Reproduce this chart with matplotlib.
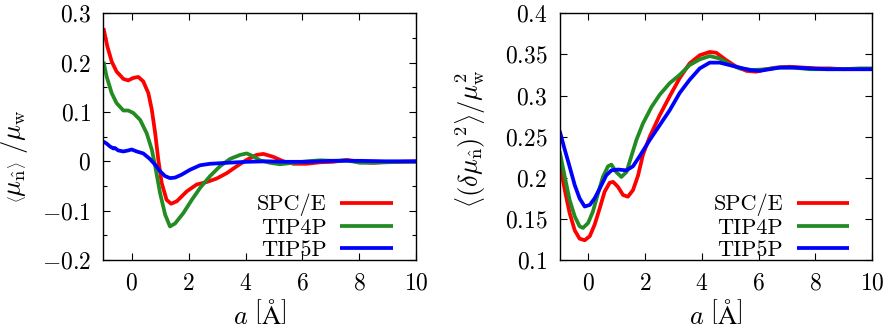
import numpy as np
import matplotlib.pyplot as plt
from matplotlib.ticker import MultipleLocator, FuncFormatter

plt.rcParams['mathtext.fontset'] = 'cm'
plt.rcParams['font.family'] = 'serif'
plt.rcParams['font.serif'] = ['cmr10', 'DejaVu Serif']
plt.rcParams['axes.formatter.use_mathtext'] = True

# ---- left panel: <mu_n> / mu_w ----
a_spce_1 = [-1.0, -0.865, -0.71, -0.54, -0.30, -0.13, 0.05, 0.225, 0.40, 0.58, 0.70, 0.82, 0.93, 1.05,
            1.22, 1.38, 1.58, 1.93, 2.28, 2.63, 2.98, 3.34, 3.69, 4.04, 4.39, 4.63, 4.98, 5.33, 5.69,
            6.15, 6.62, 7.09, 7.56, 8.03, 8.5, 8.97, 9.44, 10.0]
mu_spce = [0.270, 0.233, 0.202, 0.182, 0.167, 0.164, 0.169, 0.171, 0.162, 0.138, 0.105, 0.057, 0.003, -0.044,
           -0.078, -0.086, -0.081, -0.061, -0.047, -0.042, -0.035, -0.024, -0.010, 0.003, 0.013, 0.015, 0.009,
           0.0, -0.005, -0.005, -0.002, -0.001, 0.003, -0.001, -0.003, -0.001, -0.001, 0.0]

a_tip4p_1 = [-1.0, -0.89, -0.71, -0.54, -0.30, -0.13, 0.05, 0.29, 0.52, 0.70, 0.82, 0.99, 1.17, 1.34, 1.52,
             1.81, 2.11, 2.40, 2.75, 3.10, 3.46, 3.81, 4.04, 4.28, 4.51, 4.86, 5.21, 5.69, 6.15, 6.62, 7.09,
             7.56, 8.03, 8.5, 8.97, 9.44, 10.0]
mu_tip4p = [0.202, 0.172, 0.138, 0.118, 0.103, 0.103, 0.098, 0.084, 0.057, 0.024, -0.010, -0.064, -0.108,
            -0.132, -0.126, -0.105, -0.078, -0.054, -0.030, -0.010, 0.005, 0.013, 0.016, 0.010, 0.002, -0.003,
            -0.006, -0.003, 0.0, 0.002, 0.001, 0.002, -0.003, -0.003, -0.002, -0.001, -0.001]

a_tip5p_1 = [-1.0, -0.89, -0.77, -0.65, -0.60, -0.48, -0.30, -0.13, -0.01, 0.17, 0.40, 0.63, 0.82, 0.99, 1.17,
             1.34, 1.52, 1.75, 2.05, 2.40, 2.75, 3.34, 4.04, 4.75, 5.45, 6.15, 7.09, 8.03, 8.97, 10.0]
mu_tip5p = [0.040, 0.036, 0.030, 0.026, 0.027, 0.022, 0.020, 0.022, 0.024, 0.020, 0.016, 0.005, -0.007, -0.020,
            -0.030, -0.034, -0.033, -0.027, -0.017, -0.008, -0.005, -0.003, -0.001, 0.0, -0.001, -0.001, 0.001,
            0.001, 0.0, 0.0]

# ---- right panel: <(delta mu_n)^2> / mu_w^2 ----
a_spce_2 = [-1.0, -0.82, -0.65, -0.47, -0.30, -0.12, 0.06, 0.23, 0.41, 0.58, 0.76, 0.88, 1.05, 1.23, 1.40,
            1.58, 1.76, 1.93, 2.17, 2.52, 2.87, 3.22, 3.57, 3.93, 4.28, 4.51, 4.86, 5.22, 5.57, 5.92, 6.27,
            6.62, 7.09, 7.56, 8.03, 8.5, 8.97, 9.44, 10.0]
var_spce = [0.218, 0.185, 0.157, 0.136, 0.126, 0.124, 0.129, 0.143, 0.163, 0.183, 0.194, 0.195, 0.189, 0.179,
            0.177, 0.185, 0.203, 0.228, 0.250, 0.276, 0.299, 0.321, 0.339, 0.349, 0.353, 0.352, 0.343, 0.335,
            0.330, 0.329, 0.332, 0.334, 0.335, 0.334, 0.333, 0.333, 0.332, 0.332, 0.332]

a_tip4p_2 = [-1.0, -0.82, -0.65, -0.47, -0.30, -0.18, 0.0, 0.17, 0.35, 0.52, 0.70, 0.82, 0.99, 1.17, 1.35,
             1.52, 1.70, 1.93, 2.23, 2.52, 2.87, 3.22, 3.57, 3.93, 4.28, 4.63, 4.98, 5.33, 5.80, 6.27, 6.74,
             7.21, 7.80, 8.38, 8.97, 9.56, 10.0]
var_tip4p = [0.232, 0.201, 0.173, 0.153, 0.141, 0.139, 0.145, 0.159, 0.181, 0.201, 0.214, 0.216, 0.207, 0.201,
             0.207, 0.226, 0.246, 0.266, 0.286, 0.301, 0.315, 0.325, 0.337, 0.344, 0.348, 0.345, 0.338, 0.333,
             0.331, 0.332, 0.334, 0.334, 0.332, 0.332, 0.332, 0.333, 0.333]

a_tip5p_2 = [-1.0, -0.82, -0.65, -0.47, -0.30, -0.12, 0.06, 0.23, 0.41, 0.64, 0.82, 1.05, 1.35, 1.58, 1.81,
             2.17, 2.52, 2.87, 3.22, 3.57, 3.93, 4.28, 4.63, 4.98, 5.33, 5.69, 6.04, 6.39, 6.74, 7.21, 7.80,
             8.38, 8.97, 9.56, 10.0]
var_tip5p = [0.257, 0.234, 0.2135, 0.191, 0.175, 0.165, 0.167, 0.175, 0.187, 0.203, 0.209, 0.210, 0.209, 0.214,
             0.226, 0.246, 0.264, 0.282, 0.303, 0.319, 0.333, 0.340, 0.340, 0.337, 0.334, 0.331, 0.330, 0.332,
             0.334, 0.334, 0.333, 0.332, 0.332, 0.332, 0.332]

labels = ['SPC/E', 'TIP4P', 'TIP5P']
colors = ['#ff0000', '#228b22', '#0000ff']

fig = plt.figure(figsize=(8.86, 3.28), dpi=100)
ax1 = fig.add_axes([0.1168, 0.2073, 0.3527, 0.7522])
ax2 = fig.add_axes([0.6317, 0.2073, 0.3528, 0.7522])


def fmt(v, pos):
    s = ('%.2f' % v).rstrip('0').rstrip('.')
    if s in ('-0', ''):
        s = '0'
    return '$' + s + '$'


panels = [
    (ax1, [(a_spce_1, mu_spce), (a_tip4p_1, mu_tip4p), (a_tip5p_1, mu_tip5p)],
     (-0.2, 0.3), 0.1, 0.05,
     r'$\left\langle \mu_{\hat{\mathrm{n}}} \right\rangle\ /\mu_{\mathrm{w}}$', (-0.235, 0.42)),
    (ax2, [(a_spce_2, var_spce), (a_tip4p_2, var_tip4p), (a_tip5p_2, var_tip5p)],
     (0.1, 0.4), 0.05, None,
     r'$\left\langle (\delta\mu_{\hat{\mathrm{n}}})^2 \right\rangle /\mu_{\mathrm{w}}^2$', (-0.232, 0.49)),
]

for ax, series, ylim, ymaj, ymin, ylab, lpos in panels:
    for (x, y), lab, c in zip(series, labels, colors):
        ax.plot(x, y, color=c, lw=2.7, label=lab, solid_capstyle='butt')
    ax.set_xlim(-1, 10)
    ax.set_ylim(*ylim)
    ax.xaxis.set_major_locator(MultipleLocator(2))
    ax.yaxis.set_major_locator(MultipleLocator(ymaj))
    if ymin:
        ax.yaxis.set_minor_locator(MultipleLocator(ymin))
    ax.xaxis.set_major_formatter(FuncFormatter(fmt))
    ax.yaxis.set_major_formatter(FuncFormatter(fmt))
    ax.tick_params(which='both', direction='in', top=True, right=True, labelsize=17)
    ax.tick_params(axis='y', pad=9)
    ax.tick_params(axis='x', pad=9)
    ax.tick_params(which='major', length=5, width=0.8)
    ax.tick_params(which='minor', length=3, width=0.8)
    ax.tick_params(axis='x', which='minor', top=False, bottom=False)
    for sp in ax.spines.values():
        sp.set_linewidth(1.0)
    ax.set_xlabel(r'$a\ \left[\mathrm{\AA}\right]$', fontsize=19, labelpad=4)
    ax.set_ylabel(ylab, fontsize=19)
    ax.yaxis.set_label_coords(*lpos)
    ax.legend(loc='lower right', bbox_to_anchor=(0.925, 0.0), frameon=False, markerfirst=False,
              fontsize=16, handlelength=2.35, labelspacing=0.1, handletextpad=0.6,
              borderpad=0.0, borderaxespad=0.0)

fig.savefig('out.png', dpi=100)
